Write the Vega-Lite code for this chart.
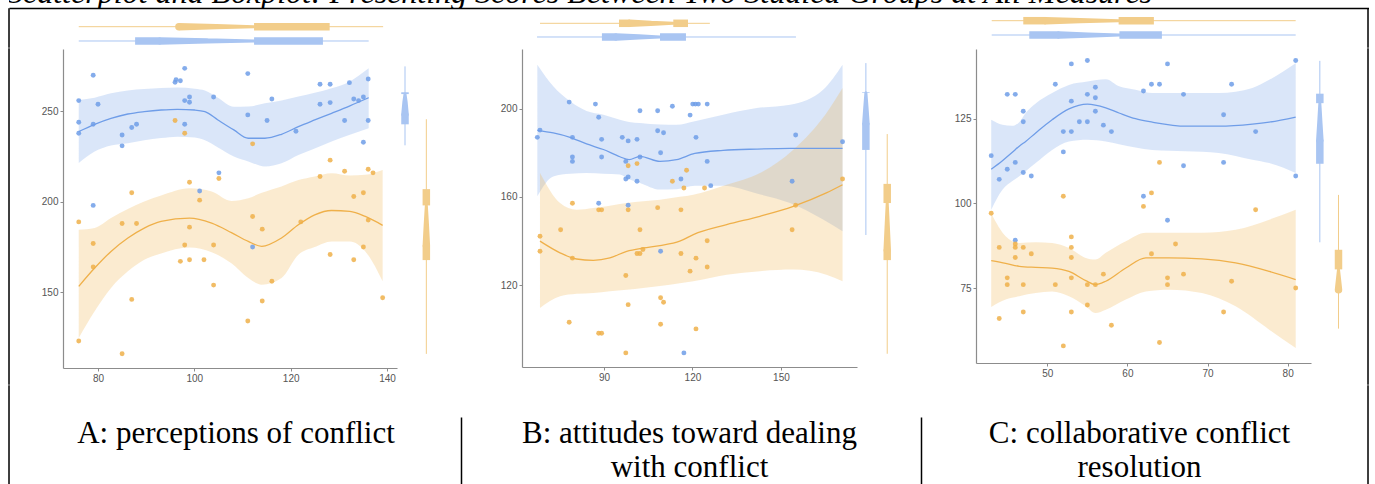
{
"$schema": "https://vega.github.io/schema/vega-lite/v6.json",
"padding": {"left": 8, "top": 0, "right": 0, "bottom": 0},
"background": "white",
"spacing": 0,
"resolve": {"scale": {"x": "independent", "y": "independent", "color": "independent", "size": "independent"}},
"datasets": {
"pts": [
{"panel":"A","grp":"blue","x":76.0,"y":255.9},{"panel":"A","grp":"blue","x":76.0,"y":243.9},{"panel":"A","grp":"blue","x":76.0,"y":237.9},{"panel":"A","grp":"blue","x":79.0,"y":269.9},{"panel":"A","grp":"blue","x":79.0,"y":242.8},{"panel":"A","grp":"blue","x":79.0,"y":198.0},{"panel":"A","grp":"blue","x":80.0,"y":253.9},{"panel":"A","grp":"blue","x":85.0,"y":236.9},{"panel":"A","grp":"blue","x":85.0,"y":230.9},{"panel":"A","grp":"blue","x":87.0,"y":241.0},{"panel":"A","grp":"blue","x":88.0,"y":242.8},{"panel":"A","grp":"blue","x":96.0,"y":266.0},{"panel":"A","grp":"blue","x":96.2,"y":267.4},{"panel":"A","grp":"blue","x":97.1,"y":266.9},{"panel":"A","grp":"blue","x":98.0,"y":273.7},{"panel":"A","grp":"blue","x":98.0,"y":255.9},{"panel":"A","grp":"blue","x":99.0,"y":257.9},{"panel":"A","grp":"blue","x":99.0,"y":255.0},{"panel":"A","grp":"blue","x":98.0,"y":242.8},{"panel":"A","grp":"blue","x":101.1,"y":206.0},{"panel":"A","grp":"blue","x":104.0,"y":257.9},{"panel":"A","grp":"blue","x":105.1,"y":216.0},{"panel":"A","grp":"blue","x":111.1,"y":270.8},{"panel":"A","grp":"blue","x":111.1,"y":248.0},{"panel":"A","grp":"blue","x":112.1,"y":175.0},{"panel":"A","grp":"blue","x":115.1,"y":244.9},{"panel":"A","grp":"blue","x":116.1,"y":256.8},{"panel":"A","grp":"blue","x":121.1,"y":239.0},{"panel":"A","grp":"blue","x":126.1,"y":264.9},{"panel":"A","grp":"blue","x":126.1,"y":253.9},{"panel":"A","grp":"blue","x":128.2,"y":264.9},{"panel":"A","grp":"blue","x":128.2,"y":254.8},{"panel":"A","grp":"blue","x":131.2,"y":244.9},{"panel":"A","grp":"blue","x":132.2,"y":265.8},{"panel":"A","grp":"blue","x":133.1,"y":256.8},{"panel":"A","grp":"blue","x":134.1,"y":255.9},{"panel":"A","grp":"blue","x":135.1,"y":257.9},{"panel":"A","grp":"blue","x":135.1,"y":232.9},{"panel":"A","grp":"blue","x":136.1,"y":267.8},{"panel":"A","grp":"blue","x":136.1,"y":244.9},
{"panel":"A","grp":"orange","x":76.0,"y":188.9},{"panel":"A","grp":"orange","x":76.0,"y":123.1},{"panel":"A","grp":"orange","x":79.0,"y":177.0},{"panel":"A","grp":"orange","x":79.0,"y":164.0},{"panel":"A","grp":"orange","x":85.0,"y":188.0},{"panel":"A","grp":"orange","x":85.0,"y":116.1},{"panel":"A","grp":"orange","x":87.0,"y":205.0},{"panel":"A","grp":"orange","x":87.0,"y":146.1},{"panel":"A","grp":"orange","x":88.0,"y":188.0},{"panel":"A","grp":"orange","x":96.0,"y":244.9},{"panel":"A","grp":"orange","x":97.1,"y":167.1},{"panel":"A","grp":"orange","x":98.0,"y":237.9},{"panel":"A","grp":"orange","x":98.0,"y":176.1},{"panel":"A","grp":"orange","x":99.0,"y":210.8},{"panel":"A","grp":"orange","x":99.0,"y":186.0},{"panel":"A","grp":"orange","x":99.0,"y":168.0},{"panel":"A","grp":"orange","x":101.1,"y":200.9},{"panel":"A","grp":"orange","x":102.0,"y":168.0},{"panel":"A","grp":"orange","x":104.0,"y":176.1},{"panel":"A","grp":"orange","x":104.0,"y":154.0},{"panel":"A","grp":"orange","x":105.1,"y":212.9},{"panel":"A","grp":"orange","x":111.1,"y":134.2},{"panel":"A","grp":"orange","x":112.1,"y":232.0},{"panel":"A","grp":"orange","x":112.1,"y":191.9},{"panel":"A","grp":"orange","x":114.1,"y":184.9},{"panel":"A","grp":"orange","x":114.1,"y":145.2},{"panel":"A","grp":"orange","x":116.1,"y":156.1},{"panel":"A","grp":"orange","x":122.1,"y":188.9},{"panel":"A","grp":"orange","x":126.1,"y":214.0},{"panel":"A","grp":"orange","x":128.2,"y":223.0},{"panel":"A","grp":"orange","x":128.2,"y":170.9},{"panel":"A","grp":"orange","x":131.2,"y":216.9},{"panel":"A","grp":"orange","x":133.1,"y":202.9},{"panel":"A","grp":"orange","x":133.1,"y":168.0},{"panel":"A","grp":"orange","x":135.1,"y":205.0},{"panel":"A","grp":"orange","x":135.1,"y":175.0},{"panel":"A","grp":"orange","x":136.1,"y":218.0},{"panel":"A","grp":"orange","x":136.1,"y":189.9},{"panel":"A","grp":"orange","x":137.1,"y":216.0},{"panel":"A","grp":"orange","x":139.1,"y":147.0},
{"panel":"B","grp":"blue","x":67.4,"y":187.0},{"panel":"B","grp":"blue","x":68.3,"y":190.3},{"panel":"B","grp":"blue","x":78.2,"y":203.0},{"panel":"B","grp":"blue","x":79.3,"y":187.0},{"panel":"B","grp":"blue","x":79.3,"y":178.1},{"panel":"B","grp":"blue","x":79.3,"y":176.1},{"panel":"B","grp":"blue","x":87.1,"y":202.1},{"panel":"B","grp":"blue","x":88.2,"y":196.1},{"panel":"B","grp":"blue","x":89.2,"y":186.1},{"panel":"B","grp":"blue","x":89.2,"y":178.1},{"panel":"B","grp":"blue","x":88.2,"y":157.1},{"panel":"B","grp":"blue","x":96.2,"y":187.0},{"panel":"B","grp":"blue","x":97.4,"y":176.1},{"panel":"B","grp":"blue","x":98.2,"y":185.4},{"panel":"B","grp":"blue","x":97.4,"y":168.1},{"panel":"B","grp":"blue","x":98.2,"y":169.0},{"panel":"B","grp":"blue","x":98.2,"y":156.2},{"panel":"B","grp":"blue","x":101.2,"y":186.1},{"panel":"B","grp":"blue","x":101.2,"y":167.1},{"panel":"B","grp":"blue","x":102.2,"y":199.1},{"panel":"B","grp":"blue","x":102.2,"y":178.1},{"panel":"B","grp":"blue","x":108.2,"y":199.1},{"panel":"B","grp":"blue","x":108.2,"y":190.0},{"panel":"B","grp":"blue","x":109.2,"y":180.0},{"panel":"B","grp":"blue","x":110.2,"y":189.1},{"panel":"B","grp":"blue","x":113.2,"y":201.1},{"panel":"B","grp":"blue","x":116.1,"y":168.1},{"panel":"B","grp":"blue","x":117.1,"y":89.2},{"panel":"B","grp":"blue","x":119.2,"y":197.1},{"panel":"B","grp":"blue","x":120.1,"y":202.1},{"panel":"B","grp":"blue","x":121.0,"y":202.1},{"panel":"B","grp":"blue","x":122.0,"y":202.1},{"panel":"B","grp":"blue","x":121.2,"y":187.0},{"panel":"B","grp":"blue","x":125.0,"y":202.1},{"panel":"B","grp":"blue","x":125.0,"y":176.1},{"panel":"B","grp":"blue","x":155.0,"y":188.1},{"panel":"B","grp":"blue","x":170.9,"y":185.0},{"panel":"B","grp":"blue","x":109.2,"y":135.3},{"panel":"B","grp":"blue","x":153.8,"y":167.1},{"panel":"B","grp":"blue","x":126.2,"y":165.1},
{"panel":"B","grp":"orange","x":68.3,"y":142.1},{"panel":"B","grp":"orange","x":68.3,"y":135.3},{"panel":"B","grp":"orange","x":75.3,"y":145.1},{"panel":"B","grp":"orange","x":79.3,"y":157.1},{"panel":"B","grp":"orange","x":79.3,"y":132.2},{"panel":"B","grp":"orange","x":78.2,"y":103.1},{"panel":"B","grp":"orange","x":88.2,"y":154.1},{"panel":"B","grp":"orange","x":89.2,"y":154.1},{"panel":"B","grp":"orange","x":88.2,"y":98.1},{"panel":"B","grp":"orange","x":89.2,"y":98.1},{"panel":"B","grp":"orange","x":97.4,"y":124.3},{"panel":"B","grp":"orange","x":98.2,"y":154.1},{"panel":"B","grp":"orange","x":98.2,"y":111.1},{"panel":"B","grp":"orange","x":97.4,"y":89.2},{"panel":"B","grp":"orange","x":98.2,"y":174.1},{"panel":"B","grp":"orange","x":101.2,"y":175.1},{"panel":"B","grp":"orange","x":101.2,"y":134.3},{"panel":"B","grp":"orange","x":102.2,"y":134.3},{"panel":"B","grp":"orange","x":102.2,"y":145.1},{"panel":"B","grp":"orange","x":103.2,"y":136.1},{"panel":"B","grp":"orange","x":108.2,"y":155.1},{"panel":"B","grp":"orange","x":109.2,"y":114.2},{"panel":"B","grp":"orange","x":110.2,"y":112.2},{"panel":"B","grp":"orange","x":109.2,"y":102.2},{"panel":"B","grp":"orange","x":113.2,"y":167.1},{"panel":"B","grp":"orange","x":116.1,"y":134.3},{"panel":"B","grp":"orange","x":116.1,"y":154.1},{"panel":"B","grp":"orange","x":117.1,"y":164.0},{"panel":"B","grp":"orange","x":118.0,"y":172.1},{"panel":"B","grp":"orange","x":119.2,"y":126.3},{"panel":"B","grp":"orange","x":121.2,"y":132.2},{"panel":"B","grp":"orange","x":121.2,"y":100.1},{"panel":"B","grp":"orange","x":124.1,"y":164.0},{"panel":"B","grp":"orange","x":125.0,"y":140.1},{"panel":"B","grp":"orange","x":125.0,"y":128.2},{"panel":"B","grp":"orange","x":153.8,"y":145.1},{"panel":"B","grp":"orange","x":155.0,"y":156.2},{"panel":"B","grp":"orange","x":170.9,"y":168.1},
{"panel":"C","grp":"blue","x":43.0,"y":114.1},{"panel":"C","grp":"blue","x":44.0,"y":107.1},{"panel":"C","grp":"blue","x":45.0,"y":132.2},{"panel":"C","grp":"blue","x":45.0,"y":110.1},{"panel":"C","grp":"blue","x":46.0,"y":132.2},{"panel":"C","grp":"blue","x":46.0,"y":112.1},{"panel":"C","grp":"blue","x":46.0,"y":89.1},{"panel":"C","grp":"blue","x":47.0,"y":127.2},{"panel":"C","grp":"blue","x":47.0,"y":124.1},{"panel":"C","grp":"blue","x":47.0,"y":109.1},{"panel":"C","grp":"blue","x":48.0,"y":108.1},{"panel":"C","grp":"blue","x":51.0,"y":135.2},{"panel":"C","grp":"blue","x":52.0,"y":121.2},{"panel":"C","grp":"blue","x":52.0,"y":115.2},{"panel":"C","grp":"blue","x":53.0,"y":141.2},{"panel":"C","grp":"blue","x":53.0,"y":130.2},{"panel":"C","grp":"blue","x":53.0,"y":121.2},{"panel":"C","grp":"blue","x":54.0,"y":124.1},{"panel":"C","grp":"blue","x":55.0,"y":142.2},{"panel":"C","grp":"blue","x":55.0,"y":132.2},{"panel":"C","grp":"blue","x":55.0,"y":124.1},{"panel":"C","grp":"blue","x":56.0,"y":134.3},{"panel":"C","grp":"blue","x":56.0,"y":131.2},{"panel":"C","grp":"blue","x":56.0,"y":127.2},{"panel":"C","grp":"blue","x":57.0,"y":123.1},{"panel":"C","grp":"blue","x":58.0,"y":121.2},{"panel":"C","grp":"blue","x":62.0,"y":133.2},{"panel":"C","grp":"blue","x":62.0,"y":102.1},{"panel":"C","grp":"blue","x":63.0,"y":135.2},{"panel":"C","grp":"blue","x":64.0,"y":135.2},{"panel":"C","grp":"blue","x":65.0,"y":141.2},{"panel":"C","grp":"blue","x":65.0,"y":95.0},{"panel":"C","grp":"blue","x":67.0,"y":132.2},{"panel":"C","grp":"blue","x":67.0,"y":111.1},{"panel":"C","grp":"blue","x":72.0,"y":126.2},{"panel":"C","grp":"blue","x":72.0,"y":112.1},{"panel":"C","grp":"blue","x":73.0,"y":135.2},{"panel":"C","grp":"blue","x":76.0,"y":121.2},{"panel":"C","grp":"blue","x":81.0,"y":142.2},{"panel":"C","grp":"blue","x":81.0,"y":108.1},
{"panel":"C","grp":"orange","x":43.0,"y":97.1},{"panel":"C","grp":"orange","x":44.0,"y":87.0},{"panel":"C","grp":"orange","x":44.0,"y":66.0},{"panel":"C","grp":"orange","x":45.0,"y":78.0},{"panel":"C","grp":"orange","x":45.0,"y":76.0},{"panel":"C","grp":"orange","x":46.0,"y":88.0},{"panel":"C","grp":"orange","x":46.0,"y":87.0},{"panel":"C","grp":"orange","x":46.0,"y":84.0},{"panel":"C","grp":"orange","x":47.0,"y":87.0},{"panel":"C","grp":"orange","x":47.0,"y":76.0},{"panel":"C","grp":"orange","x":47.0,"y":67.9},{"panel":"C","grp":"orange","x":48.0,"y":85.1},{"panel":"C","grp":"orange","x":51.0,"y":76.0},{"panel":"C","grp":"orange","x":52.0,"y":102.1},{"panel":"C","grp":"orange","x":52.0,"y":57.9},{"panel":"C","grp":"orange","x":53.0,"y":90.1},{"panel":"C","grp":"orange","x":53.0,"y":87.0},{"panel":"C","grp":"orange","x":53.0,"y":84.0},{"panel":"C","grp":"orange","x":53.0,"y":78.0},{"panel":"C","grp":"orange","x":53.0,"y":67.9},{"panel":"C","grp":"orange","x":55.0,"y":76.0},{"panel":"C","grp":"orange","x":55.0,"y":70.0},{"panel":"C","grp":"orange","x":56.0,"y":76.0},{"panel":"C","grp":"orange","x":57.0,"y":79.1},{"panel":"C","grp":"orange","x":58.0,"y":64.0},{"panel":"C","grp":"orange","x":62.0,"y":99.1},{"panel":"C","grp":"orange","x":63.0,"y":103.1},{"panel":"C","grp":"orange","x":63.0,"y":85.1},{"panel":"C","grp":"orange","x":64.0,"y":112.1},{"panel":"C","grp":"orange","x":64.0,"y":58.9},{"panel":"C","grp":"orange","x":65.0,"y":78.0},{"panel":"C","grp":"orange","x":65.0,"y":76.0},{"panel":"C","grp":"orange","x":66.0,"y":88.0},{"panel":"C","grp":"orange","x":67.0,"y":79.1},{"panel":"C","grp":"orange","x":72.0,"y":67.9},{"panel":"C","grp":"orange","x":73.0,"y":77.0},{"panel":"C","grp":"orange","x":76.0,"y":98.1},{"panel":"C","grp":"orange","x":81.0,"y":75.0}
],
"fit": [
{"panel":"A","grp":"blue","x":76.0,"lo":221.5,"hi":256.2,"y":238.8},{"panel":"A","grp":"blue","x":79.3,"lo":227.8,"hi":257.5,"y":242.8},{"panel":"A","grp":"blue","x":82.7,"lo":231.1,"hi":259.9,"y":246.1},{"panel":"A","grp":"blue","x":86.2,"lo":232.4,"hi":261.5,"y":248.5},{"panel":"A","grp":"blue","x":89.6,"lo":234.0,"hi":262.3,"y":249.8},{"panel":"A","grp":"blue","x":93.1,"lo":235.2,"hi":262.8,"y":250.7},{"panel":"A","grp":"blue","x":96.5,"lo":236.0,"hi":263.1,"y":251.1},{"panel":"A","grp":"blue","x":100.1,"lo":235.5,"hi":262.5,"y":250.7},{"panel":"A","grp":"blue","x":102.2,"lo":234.0,"hi":261.5,"y":249.8},{"panel":"A","grp":"blue","x":104.9,"lo":230.0,"hi":257.5,"y":245.2},{"panel":"A","grp":"blue","x":108.2,"lo":225.0,"hi":252.5,"y":239.7},{"panel":"A","grp":"blue","x":111.2,"lo":222.3,"hi":252.6,"y":235.1},{"panel":"A","grp":"blue","x":114.65,"lo":219.5,"hi":254.4,"y":235.1},{"panel":"A","grp":"blue","x":118.1,"lo":221.3,"hi":256.0,"y":237.3},{"panel":"A","grp":"blue","x":121.6,"lo":225.9,"hi":258.1,"y":241.5},{"panel":"A","grp":"blue","x":125.0,"lo":229.5,"hi":260.2,"y":245.2},{"panel":"A","grp":"blue","x":128.5,"lo":233.3,"hi":262.7,"y":248.9},{"panel":"A","grp":"blue","x":132.3,"lo":237.0,"hi":266.5,"y":253.0},{"panel":"A","grp":"blue","x":136.2,"lo":240.6,"hi":273.7,"y":257.5},
{"panel":"A","grp":"orange","x":76.0,"lo":124.8,"hi":184.5,"y":153.3},{"panel":"A","grp":"orange","x":79.3,"lo":139.5,"hi":185.5,"y":163.4},{"panel":"A","grp":"orange","x":82.7,"lo":152.4,"hi":191.0,"y":172.6},{"panel":"A","grp":"orange","x":86.2,"lo":161.6,"hi":196.0,"y":180.0},{"panel":"A","grp":"orange","x":89.6,"lo":168.0,"hi":200.2,"y":185.5},{"panel":"A","grp":"orange","x":93.1,"lo":171.5,"hi":203.5,"y":189.2},{"panel":"A","grp":"orange","x":99.0,"lo":174.8,"hi":207.5,"y":191.0},{"panel":"A","grp":"orange","x":103.6,"lo":172.2,"hi":205.7,"y":188.2},{"panel":"A","grp":"orange","x":107.7,"lo":166.0,"hi":200.5,"y":183.0},{"panel":"A","grp":"orange","x":111.2,"lo":157.9,"hi":202.0,"y":178.1},{"panel":"A","grp":"orange","x":114.0,"lo":154.2,"hi":205.0,"y":175.4},{"panel":"A","grp":"orange","x":118.1,"lo":157.9,"hi":208.5,"y":180.0},{"panel":"A","grp":"orange","x":121.6,"lo":170.7,"hi":212.0,"y":187.3},{"panel":"A","grp":"orange","x":125.0,"lo":175.0,"hi":214.0,"y":192.8},{"panel":"A","grp":"orange","x":128.5,"lo":178.1,"hi":215.8,"y":195.2},{"panel":"A","grp":"orange","x":132.3,"lo":178.1,"hi":214.5,"y":194.7},{"panel":"A","grp":"orange","x":135.5,"lo":172.6,"hi":214.9,"y":191.9},{"panel":"A","grp":"orange","x":139.1,"lo":156.1,"hi":217.6,"y":187.0},
{"panel":"B","grp":"blue","x":67.4,"lo":160.3,"hi":220.0,"y":190.2},{"panel":"B","grp":"blue","x":72.8,"lo":169.3,"hi":210.2,"y":189.0},{"panel":"B","grp":"blue","x":78.5,"lo":170.5,"hi":203.4,"y":187.0},{"panel":"B","grp":"blue","x":84.1,"lo":170.8,"hi":199.0,"y":184.0},{"panel":"B","grp":"blue","x":89.8,"lo":170.5,"hi":197.3,"y":181.5},{"panel":"B","grp":"blue","x":95.4,"lo":170.1,"hi":195.0,"y":178.2},{"panel":"B","grp":"blue","x":98.5,"lo":168.0,"hi":194.0,"y":176.9},{"panel":"B","grp":"blue","x":102.2,"lo":166.3,"hi":193.5,"y":178.4},{"panel":"B","grp":"blue","x":109.0,"lo":163.3,"hi":192.8,"y":176.1},{"panel":"B","grp":"blue","x":114.6,"lo":163.5,"hi":192.7,"y":176.9},{"panel":"B","grp":"blue","x":120.8,"lo":165.0,"hi":194.3,"y":179.7},{"panel":"B","grp":"blue","x":130.4,"lo":165.0,"hi":197.3,"y":181.1},{"panel":"B","grp":"blue","x":141.8,"lo":161.5,"hi":200.3,"y":181.7},{"panel":"B","grp":"blue","x":153.1,"lo":157.2,"hi":201.8,"y":182.0},{"panel":"B","grp":"blue","x":164.3,"lo":149.7,"hi":208.6,"y":182.0},{"panel":"B","grp":"blue","x":170.9,"lo":144.4,"hi":220.0,"y":182.0},
{"panel":"B","grp":"orange","x":68.3,"lo":109.6,"hi":170.8,"y":139.9},{"panel":"B","grp":"orange","x":75.1,"lo":114.9,"hi":157.2,"y":134.6},{"panel":"B","grp":"orange","x":80.7,"lo":116.0,"hi":154.2,"y":131.8},{"panel":"B","grp":"orange","x":86.4,"lo":116.4,"hi":155.0,"y":131.2},{"panel":"B","grp":"orange","x":92.0,"lo":117.2,"hi":156.0,"y":132.3},{"panel":"B","grp":"orange","x":97.7,"lo":117.9,"hi":157.2,"y":135.3},{"panel":"B","grp":"orange","x":103.3,"lo":118.7,"hi":158.0,"y":136.8},{"panel":"B","grp":"orange","x":109.0,"lo":119.5,"hi":158.7,"y":137.9},{"panel":"B","grp":"orange","x":115.7,"lo":120.8,"hi":160.0,"y":139.9},{"panel":"B","grp":"orange","x":120.3,"lo":121.7,"hi":161.0,"y":142.9},{"panel":"B","grp":"orange","x":131.6,"lo":124.7,"hi":165.5,"y":147.4},{"panel":"B","grp":"orange","x":142.9,"lo":126.3,"hi":170.8,"y":151.2},{"panel":"B","grp":"orange","x":154.2,"lo":127.0,"hi":181.4,"y":155.7},{"panel":"B","grp":"orange","x":165.4,"lo":124.7,"hi":198.0,"y":161.8},{"panel":"B","grp":"orange","x":170.9,"lo":121.7,"hi":209.4,"y":165.5},
{"panel":"C","grp":"blue","x":43.0,"lo":98.1,"hi":124.7,"y":110.1},{"panel":"C","grp":"blue","x":44.4,"lo":104.0,"hi":123.2,"y":112.6},{"panel":"C","grp":"blue","x":45.6,"lo":106.5,"hi":122.9,"y":115.0},{"panel":"C","grp":"blue","x":46.5,"lo":108.0,"hi":124.0,"y":116.9},{"panel":"C","grp":"blue","x":47.3,"lo":109.5,"hi":126.7,"y":118.3},{"panel":"C","grp":"blue","x":48.55,"lo":111.9,"hi":129.5,"y":120.8},{"panel":"C","grp":"blue","x":50.6,"lo":115.8,"hi":132.6,"y":124.7},{"panel":"C","grp":"blue","x":52.7,"lo":118.3,"hi":135.0,"y":127.9},{"panel":"C","grp":"blue","x":55.0,"lo":118.8,"hi":136.0,"y":129.3},{"panel":"C","grp":"blue","x":57.3,"lo":118.3,"hi":136.7,"y":128.2},{"panel":"C","grp":"blue","x":58.95,"lo":117.5,"hi":134.6,"y":126.7},{"panel":"C","grp":"blue","x":61.0,"lo":116.5,"hi":133.6,"y":125.0},{"panel":"C","grp":"blue","x":63.1,"lo":115.8,"hi":132.6,"y":124.0},{"panel":"C","grp":"blue","x":67.3,"lo":115.4,"hi":132.6,"y":122.8},{"panel":"C","grp":"blue","x":71.4,"lo":114.9,"hi":132.6,"y":122.8},{"panel":"C","grp":"blue","x":75.6,"lo":112.9,"hi":134.1,"y":123.4},{"panel":"C","grp":"blue","x":77.7,"lo":111.9,"hi":136.5,"y":124.0},{"panel":"C","grp":"blue","x":81.0,"lo":109.0,"hi":141.4,"y":125.5},
{"panel":"C","grp":"orange","x":43.0,"lo":69.4,"hi":97.0,"y":83.1},{"panel":"C","grp":"orange","x":44.8,"lo":71.6,"hi":90.3,"y":82.3},{"panel":"C","grp":"orange","x":46.5,"lo":72.6,"hi":88.3,"y":81.4},{"panel":"C","grp":"orange","x":48.55,"lo":73.5,"hi":88.5,"y":81.1},{"panel":"C","grp":"orange","x":50.6,"lo":74.0,"hi":88.3,"y":80.9},{"panel":"C","grp":"orange","x":52.7,"lo":72.6,"hi":86.8,"y":79.9},{"panel":"C","grp":"orange","x":54.8,"lo":69.6,"hi":83.9,"y":77.2},{"panel":"C","grp":"orange","x":56.0,"lo":67.6,"hi":83.4,"y":76.0},{"panel":"C","grp":"orange","x":57.3,"lo":68.6,"hi":85.4,"y":77.0},{"panel":"C","grp":"orange","x":59.8,"lo":71.6,"hi":88.8,"y":80.9},{"panel":"C","grp":"orange","x":62.3,"lo":74.0,"hi":91.3,"y":83.9},{"panel":"C","grp":"orange","x":65.2,"lo":74.5,"hi":91.3,"y":83.9},{"panel":"C","grp":"orange","x":69.3,"lo":73.5,"hi":91.3,"y":83.6},{"panel":"C","grp":"orange","x":73.5,"lo":69.6,"hi":92.2,"y":82.4},{"panel":"C","grp":"orange","x":77.7,"lo":62.7,"hi":95.2,"y":79.9},{"panel":"C","grp":"orange","x":81.0,"lo":57.3,"hi":98.1,"y":77.5}
],
"box": [
{"panel":"A","dir":"h","grp":"orange","wlo":76.0,"q1":96.9,"nlo":96.8,"med":104.6,"nhi":112.4,"q3":128.1,"whi":139.2},
{"panel":"A","dir":"h","grp":"blue","wlo":76.0,"q1":87.7,"nlo":93.0,"med":102.7,"nhi":112.4,"q3":126.7,"whi":136.2},
{"panel":"A","dir":"v","grp":"blue","wlo":231.2,"q1":242.8,"nlo":248.7,"med":255.3,"nhi":259.5,"q3":260.5,"whi":274.8},
{"panel":"A","dir":"v","grp":"orange","wlo":116.0,"q1":167.8,"nlo":176.0,"med":187.7,"nhi":198.0,"q3":207.0,"whi":245.6},
{"panel":"B","dir":"h","grp":"orange","wlo":68.3,"q1":95.1,"nlo":98.8,"med":105.9,"nhi":113.5,"q3":118.5,"whi":125.9},
{"panel":"B","dir":"h","grp":"blue","wlo":67.3,"q1":89.3,"nlo":94.3,"med":101.9,"nhi":109.0,"q3":117.8,"whi":155.1},
{"panel":"B","dir":"v","grp":"blue","wlo":142.7,"q1":181.3,"nlo":193.5,"med":200.7,"nhi":207.3,"q3":207.6,"whi":220.7},
{"panel":"B","dir":"v","grp":"orange","wlo":88.8,"q1":131.3,"nlo":136.1,"med":146.8,"nhi":157.2,"q3":165.9,"whi":188.5},
{"panel":"C","dir":"h","grp":"orange","wlo":43.06,"q1":47.0,"nlo":49.8,"med":54.1,"nhi":58.9,"q3":63.3,"whi":81.0},
{"panel":"C","dir":"h","grp":"blue","wlo":43.06,"q1":47.75,"nlo":51.5,"med":55.1,"nhi":59.0,"q3":64.3,"whi":81.0},
{"panel":"C","dir":"v","grp":"blue","wlo":88.5,"q1":111.7,"nlo":118.8,"med":124.0,"nhi":129.6,"q3":132.4,"whi":142.1},
{"panel":"C","dir":"v","grp":"orange","wlo":63.0,"q1":74.5,"nlo":74.5,"med":77.5,"nhi":80.5,"q3":86.3,"whi":102.5}
],
"cap": [
{"panel":"A","label":"A: perceptions of conflict"},
{"panel":"B","label":"B: attitudes toward dealing\nwith conflict"},
{"panel":"C","label":"C: collaborative conflict\nresolution"}
]
},
"vconcat": [
{
"width": 1360, "height": 8,
"data": {"values": [{"t": "Scatterplot and Boxplot: Presenting Scores Between Two Studied Groups at All Measures"}]},
"mark": {"type": "text", "clip": true, "font": "Liberation Serif", "fontStyle": "italic", "fontSize": 32, "align": "left", "baseline": "alphabetic", "dx": -2, "dy": -1, "color": "#000"},
"encoding": {
"text": {"field": "t"},
"x": {"datum": 0, "type": "quantitative", "scale": {"domain": [0, 1]}, "axis": {"orient": "bottom", "domain": true, "domainColor": "#000", "domainWidth": 1.5, "ticks": false, "labels": false, "title": null, "grid": false}}
}
},
{
"columns": 8,
"align": "each",
"spacing": 0,
"resolve": {"scale": {"x": "independent", "y": "independent", "color": "independent", "size": "independent"}},
"concat": [
{"width": 0.01, "height": 38, "data": {"values": []}, "mark": "point", "view": {"stroke": "#000", "strokeWidth": 1.5}},
{
"width": 334, "height": 38, "data": {"name": "box"},
"transform": [{"filter": "datum.panel === 'A' && datum.dir === 'h'"}],
"encoding": {
"y": {"field": "grp", "type": "nominal", "scale": {"type": "point", "domain": ["orange", "blue"], "padding": 0.8287, "align": 0.7468}, "axis": null},
"color": {"field": "grp", "type": "nominal", "scale": {"domain": ["blue", "orange"], "range": ["#a9c5f2", "#f2cd8a"]}, "legend": null}
},
"layer": [
{"mark": {"type": "rule", "strokeWidth": 1}, "encoding": {"x": {"field": "wlo", "type": "quantitative", "scale": {"domain": [72.73, 142.08], "nice": false, "zero": false}, "axis": null}, "x2": {"field": "whi"}}},
{"mark": {"type": "rule", "strokeWidth": 7.5}, "encoding": {"x": {"field": "q1", "type": "quantitative", "scale": {"domain": [72.73, 142.08], "nice": false, "zero": false}, "axis": null}, "x2": {"field": "nlo"}}},
{"mark": {"type": "rule", "strokeWidth": 7.5}, "encoding": {"x": {"field": "nhi", "type": "quantitative", "scale": {"domain": [72.73, 142.08], "nice": false, "zero": false}, "axis": null}, "x2": {"field": "q3"}}},
{"transform": [{"fold": ["nlo", "med", "nhi"], "as": ["part", "v"]}], "mark": {"type": "trail"}, "encoding": {"x": {"field": "v", "type": "quantitative", "scale": {"domain": [72.73, 142.08], "nice": false, "zero": false}, "axis": null}, "size": {"field": "part", "type": "ordinal", "scale": {"domain": ["nlo", "med", "nhi"], "range": [7.5, 3, 7.5]}, "legend": null}, "order": {"field": "v", "type": "quantitative"}}}
]
},
{"width": 0.01, "height": 0.01, "data": {"values": []}, "mark": "point"},
{
"width": 335, "height": 38, "data": {"name": "box"},
"transform": [{"filter": "datum.panel === 'B' && datum.dir === 'h'"}],
"encoding": {
"y": {"field": "grp", "type": "nominal", "scale": {"type": "point", "domain": ["orange", "blue"], "padding": 0.887, "align": 0.5885}, "axis": null},
"color": {"field": "grp", "type": "nominal", "scale": {"domain": ["blue", "orange"], "range": ["#a9c5f2", "#f2cd8a"]}, "legend": null}
},
"layer": [
{"mark": {"type": "rule", "strokeWidth": 1}, "encoding": {"x": {"field": "wlo", "type": "quantitative", "scale": {"domain": [62.2, 175.8], "nice": false, "zero": false}, "axis": null}, "x2": {"field": "whi"}}},
{"mark": {"type": "rule", "strokeWidth": 7.5}, "encoding": {"x": {"field": "q1", "type": "quantitative", "scale": {"domain": [62.2, 175.8], "nice": false, "zero": false}, "axis": null}, "x2": {"field": "nlo"}}},
{"mark": {"type": "rule", "strokeWidth": 7.5}, "encoding": {"x": {"field": "nhi", "type": "quantitative", "scale": {"domain": [62.2, 175.8], "nice": false, "zero": false}, "axis": null}, "x2": {"field": "q3"}}},
{"transform": [{"fold": ["nlo", "med", "nhi"], "as": ["part", "v"]}], "mark": {"type": "trail"}, "encoding": {"x": {"field": "v", "type": "quantitative", "scale": {"domain": [62.2, 175.8], "nice": false, "zero": false}, "axis": null}, "size": {"field": "part", "type": "ordinal", "scale": {"domain": ["nlo", "med", "nhi"], "range": [7.5, 3, 7.5]}, "legend": null}, "order": {"field": "v", "type": "quantitative"}}}
]
},
{"width": 0.01, "height": 0.01, "data": {"values": []}, "mark": "point"},
{
"width": 335, "height": 38, "data": {"name": "box"},
"transform": [{"filter": "datum.panel === 'C' && datum.dir === 'h'"}],
"encoding": {
"y": {"field": "grp", "type": "nominal", "scale": {"type": "point", "domain": ["orange", "blue"], "padding": 0.8287, "align": 0.4937}, "axis": null},
"color": {"field": "grp", "type": "nominal", "scale": {"domain": ["blue", "orange"], "range": ["#a9c5f2", "#f2cd8a"]}, "legend": null}
},
"layer": [
{"mark": {"type": "rule", "strokeWidth": 1}, "encoding": {"x": {"field": "wlo", "type": "quantitative", "scale": {"domain": [41.1, 82.91], "nice": false, "zero": false}, "axis": null}, "x2": {"field": "whi"}}},
{"mark": {"type": "rule", "strokeWidth": 7.5}, "encoding": {"x": {"field": "q1", "type": "quantitative", "scale": {"domain": [41.1, 82.91], "nice": false, "zero": false}, "axis": null}, "x2": {"field": "nlo"}}},
{"mark": {"type": "rule", "strokeWidth": 7.5}, "encoding": {"x": {"field": "nhi", "type": "quantitative", "scale": {"domain": [41.1, 82.91], "nice": false, "zero": false}, "axis": null}, "x2": {"field": "q3"}}},
{"transform": [{"fold": ["nlo", "med", "nhi"], "as": ["part", "v"]}], "mark": {"type": "trail"}, "encoding": {"x": {"field": "v", "type": "quantitative", "scale": {"domain": [41.1, 82.91], "nice": false, "zero": false}, "axis": null}, "size": {"field": "part", "type": "ordinal", "scale": {"domain": ["nlo", "med", "nhi"], "range": [7.5, 3, 7.5]}, "legend": null}, "order": {"field": "v", "type": "quantitative"}}}
]
},
{"width": 0.01, "height": 0.01, "data": {"values": []}, "mark": "point"},
{"width": 0.01, "height": 38, "data": {"values": []}, "mark": "point", "view": {"stroke": "#000", "strokeWidth": 1.5}},

{"width": 0.01, "height": 335, "data": {"values": []}, "mark": "point", "view": {"stroke": "#000", "strokeWidth": 1.5}},
{
"width": 334, "height": 319,
"encoding": {
"x": {"field": "x", "type": "quantitative", "scale": {"domain": [72.73, 142.08], "nice": false, "zero": false}, "axis": {"values": [80, 100, 120, 140], "title": null}},
"color": {"field": "grp", "type": "nominal", "scale": {"domain": ["blue", "orange"], "range": ["#6f9de8", "#efb04a"]}, "legend": null}
},
"layer": [
{"data": {"name": "fit"}, "transform": [{"filter": "datum.panel === 'A'"}], "mark": {"type": "area", "interpolate": "monotone", "opacity": 0.26}, "encoding": {"y": {"field": "lo", "type": "quantitative", "scale": {"domain": [108.2, 284.4], "nice": false, "zero": false}, "axis": {"values": [150, 200, 250], "title": null}}, "y2": {"field": "hi"}}},
{"data": {"name": "pts"}, "transform": [{"filter": "datum.panel === 'A'"}], "mark": {"type": "circle", "size": 24, "opacity": 0.85}, "encoding": {"y": {"field": "y", "type": "quantitative", "scale": {"domain": [108.2, 284.4], "nice": false, "zero": false}, "axis": {"values": [150, 200, 250], "title": null}}}},
{"data": {"name": "fit"}, "transform": [{"filter": "datum.panel === 'A'"}], "mark": {"type": "line", "interpolate": "monotone", "strokeWidth": 1.3}, "encoding": {"y": {"field": "y", "type": "quantitative", "scale": {"domain": [108.2, 284.4], "nice": false, "zero": false}, "axis": {"values": [150, 200, 250], "title": null}}}}
]
},
{
"width": 64, "height": 319, "data": {"name": "box"},
"transform": [{"filter": "datum.panel === 'A' && datum.dir === 'v'"}],
"encoding": {
"x": {"field": "grp", "type": "nominal", "scale": {"type": "point", "domain": ["blue", "orange"], "padding": 1.5, "align": 0.1875}, "axis": null},
"color": {"field": "grp", "type": "nominal", "scale": {"domain": ["blue", "orange"], "range": ["#a9c5f2", "#f2cd8a"]}, "legend": null}
},
"layer": [
{"mark": {"type": "rule", "strokeWidth": 1}, "encoding": {"y": {"field": "wlo", "type": "quantitative", "scale": {"domain": [108.2, 284.4], "nice": false, "zero": false}, "axis": null}, "y2": {"field": "whi"}}},
{"mark": {"type": "rule", "strokeWidth": 7.5}, "encoding": {"y": {"field": "q1", "type": "quantitative", "scale": {"domain": [108.2, 284.4], "nice": false, "zero": false}, "axis": null}, "y2": {"field": "nlo"}}},
{"mark": {"type": "rule", "strokeWidth": 7.5}, "encoding": {"y": {"field": "nhi", "type": "quantitative", "scale": {"domain": [108.2, 284.4], "nice": false, "zero": false}, "axis": null}, "y2": {"field": "q3"}}},
{"transform": [{"fold": ["nlo", "med", "nhi"], "as": ["part", "v"]}], "mark": {"type": "trail"}, "encoding": {"y": {"field": "v", "type": "quantitative", "scale": {"domain": [108.2, 284.4], "nice": false, "zero": false}, "axis": null}, "size": {"field": "part", "type": "ordinal", "scale": {"domain": ["nlo", "med", "nhi"], "range": [7.5, 3, 7.5]}, "legend": null}, "order": {"field": "v", "type": "quantitative"}}}
]
},
{
"width": 335, "height": 318,
"encoding": {
"x": {"field": "x", "type": "quantitative", "scale": {"domain": [62.2, 175.8], "nice": false, "zero": false}, "axis": {"values": [90, 120, 150], "title": null}},
"color": {"field": "grp", "type": "nominal", "scale": {"domain": ["blue", "orange"], "range": ["#6f9de8", "#efb04a"]}, "legend": null}
},
"layer": [
{"data": {"name": "fit"}, "transform": [{"filter": "datum.panel === 'B'"}], "mark": {"type": "area", "interpolate": "monotone", "opacity": 0.26}, "encoding": {"y": {"field": "lo", "type": "quantitative", "scale": {"domain": [82.8, 227.1], "nice": false, "zero": false}, "axis": {"values": [120, 160, 200], "title": null}}, "y2": {"field": "hi"}}},
{"data": {"name": "pts"}, "transform": [{"filter": "datum.panel === 'B'"}], "mark": {"type": "circle", "size": 24, "opacity": 0.85}, "encoding": {"y": {"field": "y", "type": "quantitative", "scale": {"domain": [82.8, 227.1], "nice": false, "zero": false}, "axis": {"values": [120, 160, 200], "title": null}}}},
{"data": {"name": "fit"}, "transform": [{"filter": "datum.panel === 'B'"}], "mark": {"type": "line", "interpolate": "monotone", "strokeWidth": 1.3}, "encoding": {"y": {"field": "y", "type": "quantitative", "scale": {"domain": [82.8, 227.1], "nice": false, "zero": false}, "axis": {"values": [120, 160, 200], "title": null}}}}
]
},
{
"width": 64, "height": 318, "data": {"name": "box"},
"transform": [{"filter": "datum.panel === 'B' && datum.dir === 'v'"}],
"encoding": {
"x": {"field": "grp", "type": "nominal", "scale": {"type": "point", "domain": ["blue", "orange"], "padding": 1.5, "align": 0.2083}, "axis": null},
"color": {"field": "grp", "type": "nominal", "scale": {"domain": ["blue", "orange"], "range": ["#a9c5f2", "#f2cd8a"]}, "legend": null}
},
"layer": [
{"mark": {"type": "rule", "strokeWidth": 1}, "encoding": {"y": {"field": "wlo", "type": "quantitative", "scale": {"domain": [82.8, 227.1], "nice": false, "zero": false}, "axis": null}, "y2": {"field": "whi"}}},
{"mark": {"type": "rule", "strokeWidth": 7.5}, "encoding": {"y": {"field": "q1", "type": "quantitative", "scale": {"domain": [82.8, 227.1], "nice": false, "zero": false}, "axis": null}, "y2": {"field": "nlo"}}},
{"mark": {"type": "rule", "strokeWidth": 7.5}, "encoding": {"y": {"field": "nhi", "type": "quantitative", "scale": {"domain": [82.8, 227.1], "nice": false, "zero": false}, "axis": null}, "y2": {"field": "q3"}}},
{"transform": [{"fold": ["nlo", "med", "nhi"], "as": ["part", "v"]}], "mark": {"type": "trail"}, "encoding": {"y": {"field": "v", "type": "quantitative", "scale": {"domain": [82.8, 227.1], "nice": false, "zero": false}, "axis": null}, "size": {"field": "part", "type": "ordinal", "scale": {"domain": ["nlo", "med", "nhi"], "range": [7.5, 3, 7.5]}, "legend": null}, "order": {"field": "v", "type": "quantitative"}}}
]
},
{
"width": 335, "height": 314,
"encoding": {
"x": {"field": "x", "type": "quantitative", "scale": {"domain": [41.1, 82.91], "nice": false, "zero": false}, "axis": {"values": [50, 60, 70, 80], "title": null}},
"color": {"field": "grp", "type": "nominal", "scale": {"domain": ["blue", "orange"], "range": ["#6f9de8", "#efb04a"]}, "legend": null}
},
"layer": [
{"data": {"name": "fit"}, "transform": [{"filter": "datum.panel === 'C'"}], "mark": {"type": "area", "interpolate": "monotone", "opacity": 0.26}, "encoding": {"y": {"field": "lo", "type": "quantitative", "scale": {"domain": [52.85, 145.6], "nice": false, "zero": false}, "axis": {"values": [75, 100, 125], "title": null}}, "y2": {"field": "hi"}}},
{"data": {"name": "pts"}, "transform": [{"filter": "datum.panel === 'C'"}], "mark": {"type": "circle", "size": 24, "opacity": 0.85}, "encoding": {"y": {"field": "y", "type": "quantitative", "scale": {"domain": [52.85, 145.6], "nice": false, "zero": false}, "axis": {"values": [75, 100, 125], "title": null}}}},
{"data": {"name": "fit"}, "transform": [{"filter": "datum.panel === 'C'"}], "mark": {"type": "line", "interpolate": "monotone", "strokeWidth": 1.3}, "encoding": {"y": {"field": "y", "type": "quantitative", "scale": {"domain": [52.85, 145.6], "nice": false, "zero": false}, "axis": {"values": [75, 100, 125], "title": null}}}}
]
},
{
"width": 56, "height": 314, "data": {"name": "box"},
"transform": [{"filter": "datum.panel === 'C' && datum.dir === 'v'"}],
"encoding": {
"x": {"field": "grp", "type": "nominal", "scale": {"type": "point", "domain": ["blue", "orange"], "padding": 1.3667, "align": 0.2366}, "axis": null},
"color": {"field": "grp", "type": "nominal", "scale": {"domain": ["blue", "orange"], "range": ["#a9c5f2", "#f2cd8a"]}, "legend": null}
},
"layer": [
{"mark": {"type": "rule", "strokeWidth": 1}, "encoding": {"y": {"field": "wlo", "type": "quantitative", "scale": {"domain": [52.85, 145.6], "nice": false, "zero": false}, "axis": null}, "y2": {"field": "whi"}}},
{"mark": {"type": "rule", "strokeWidth": 7.5}, "encoding": {"y": {"field": "q1", "type": "quantitative", "scale": {"domain": [52.85, 145.6], "nice": false, "zero": false}, "axis": null}, "y2": {"field": "nlo"}}},
{"mark": {"type": "rule", "strokeWidth": 7.5}, "encoding": {"y": {"field": "nhi", "type": "quantitative", "scale": {"domain": [52.85, 145.6], "nice": false, "zero": false}, "axis": null}, "y2": {"field": "q3"}}},
{"transform": [{"fold": ["nlo", "med", "nhi"], "as": ["part", "v"]}], "mark": {"type": "trail"}, "encoding": {"y": {"field": "v", "type": "quantitative", "scale": {"domain": [52.85, 145.6], "nice": false, "zero": false}, "axis": null}, "size": {"field": "part", "type": "ordinal", "scale": {"domain": ["nlo", "med", "nhi"], "range": [7.5, 3, 7.5]}, "legend": null}, "order": {"field": "v", "type": "quantitative"}}}
]
},
{"width": 0.01, "height": 335, "data": {"values": []}, "mark": "point", "view": {"stroke": "#000", "strokeWidth": 1.5}},

{"width": 0.01, "height": 102, "data": {"values": []}, "mark": "point", "view": {"stroke": "#000", "strokeWidth": 1.5}},
{
"width": 334, "height": 102, "data": {"name": "cap"},
"transform": [{"filter": "datum.panel === 'A'"}],
"mark": {"type": "text", "font": "Liberation Serif", "fontSize": 31, "lineBreak": "\n", "lineHeight": 34, "align": "center", "baseline": "alphabetic", "dx": 6, "dy": 26, "color": "#000"},
"encoding": {
"text": {"field": "label"},
"y": {"datum": 1, "type": "quantitative", "scale": {"domain": [0, 1], "range": [102, 31]}, "axis": {"orient": "left", "offset": 53, "domainColor": "#000", "domainOpacity": 0, "domainWidth": 1.5, "ticks": false, "labels": false, "title": null, "grid": false}}
}
},
{"width": 0.01, "height": 0.01, "data": {"values": []}, "mark": "point"},
{
"width": 335, "height": 102, "data": {"name": "cap"},
"transform": [{"filter": "datum.panel === 'B'"}],
"mark": {"type": "text", "font": "Liberation Serif", "fontSize": 31, "lineBreak": "\n", "lineHeight": 34, "align": "center", "baseline": "alphabetic", "dx": 0, "dy": 26, "color": "#000"},
"encoding": {
"text": {"field": "label"},
"y": {"datum": 1, "type": "quantitative", "scale": {"domain": [0, 1], "range": [102, 31]}, "axis": {"orient": "left", "offset": 61, "domainColor": "#000", "domainWidth": 1.5, "ticks": false, "labels": false, "title": null, "grid": false}}
}
},
{"width": 0.01, "height": 0.01, "data": {"values": []}, "mark": "point"},
{
"width": 335, "height": 102, "data": {"name": "cap"},
"transform": [{"filter": "datum.panel === 'C'"}],
"mark": {"type": "text", "font": "Liberation Serif", "fontSize": 31, "lineBreak": "\n", "lineHeight": 34, "align": "center", "baseline": "alphabetic", "dx": -4, "dy": 26, "color": "#000"},
"encoding": {
"text": {"field": "label"},
"y": {"datum": 1, "type": "quantitative", "scale": {"domain": [0, 1], "range": [102, 31]}, "axis": {"orient": "left", "offset": 55, "domainColor": "#000", "domainWidth": 1.5, "ticks": false, "labels": false, "title": null, "grid": false}}
}
},
{"width": 0.01, "height": 0.01, "data": {"values": []}, "mark": "point"},
{"width": 0.01, "height": 102, "data": {"values": []}, "mark": "point", "view": {"stroke": "#000", "strokeWidth": 1.5}}
]
}
],
"config": {
"view": {"stroke": null},
"axis": {"grid": false, "domainColor": "#8c8c8c", "domainWidth": 1.2, "tickColor": "#8c8c8c", "tickSize": 3, "labelFont": "Liberation Sans", "labelFontSize": 10, "labelColor": "#555555", "labelPadding": 2}
}
}
